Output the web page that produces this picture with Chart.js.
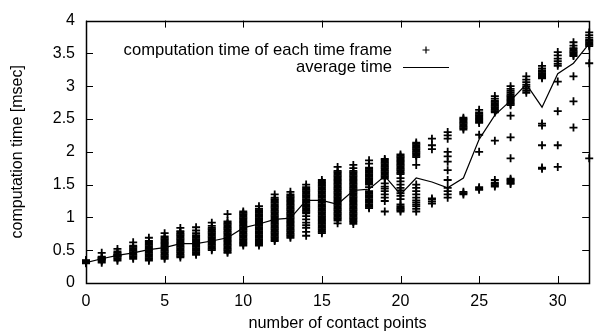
<!DOCTYPE html>
<html>
<head>
<meta charset="utf-8">
<script src="https://cdn.jsdelivr.net/npm/chart.js@4.4.1/dist/chart.umd.min.js"></script>
<style>
  html, body { margin: 0; padding: 0; background: #fff; }
  #wrap { width: 595px; height: 334px; }
</style>
</head>
<body>
<div id="wrap"><canvas id="chart" width="595" height="334"></canvas></div>
<script>
// number of contact points (x categories)
const contactPoints = [0, 1, 2, 3, 4, 5, 6, 7, 8, 9, 10, 11, 12, 13, 14, 15, 16,
  17, 18, 19, 20, 21, 22, 23, 24, 25, 26, 27, 28, 29, 30, 31, 32];

// average computation time [msec] per contact count
const averageTime = [0.31, 0.37, 0.42, 0.46, 0.51, 0.54, 0.60, 0.60, 0.64, 0.69,
  0.84, 0.90, 0.97, 0.99, 1.26, 1.26, 1.20, 1.41, 1.43, 1.63, 1.35, 1.60, 1.54,
  1.45, 1.60, 2.19, 2.56, 2.78, 3.03, 2.68, 3.19, 3.35, 3.65];

// computation time of each time frame, grouped by contact count (index = contacts)
const frameTimes = [
  [0.30, 0.31, 0.32, 0.33, 0.34, 0.35],
  [0.31, 0.33, 0.35, 0.36, 0.37, 0.38, 0.39, 0.40, 0.46],
  [0.34, 0.36, 0.38, 0.40, 0.41, 0.42, 0.43, 0.44, 0.46, 0.48, 0.52],
  [0.37, 0.39, 0.41, 0.43, 0.45, 0.47, 0.49, 0.51, 0.53, 0.55, 0.57, 0.62],
  [0.34, 0.36, 0.38, 0.40, 0.42, 0.44, 0.46, 0.48, 0.50, 0.52, 0.54, 0.56, 0.58, 0.60, 0.62, 0.64, 0.69],
  [0.37, 0.39, 0.41, 0.43, 0.45, 0.47, 0.49, 0.51, 0.53, 0.55, 0.57, 0.59, 0.61, 0.63, 0.65, 0.67, 0.69, 0.71, 0.76],
  [0.39, 0.41, 0.43, 0.45, 0.47, 0.49, 0.51, 0.53, 0.55, 0.57, 0.59, 0.61, 0.63, 0.65, 0.67, 0.69, 0.71, 0.73, 0.75, 0.77, 0.79, 0.84],
  [0.43, 0.45, 0.47, 0.49, 0.51, 0.53, 0.55, 0.57, 0.59, 0.61, 0.63, 0.65, 0.67, 0.69, 0.71, 0.73, 0.76, 0.80, 0.85],
  [0.50, 0.52, 0.54, 0.56, 0.58, 0.60, 0.62, 0.64, 0.66, 0.68, 0.70, 0.72, 0.74, 0.76, 0.78, 0.80, 0.82, 0.84, 0.87, 0.92],
  [0.46, 0.48, 0.50, 0.52, 0.54, 0.56, 0.58, 0.60, 0.62, 0.64, 0.66, 0.68, 0.70, 0.72, 0.74, 0.76, 0.78, 0.80, 0.82, 0.84, 0.86, 0.88, 0.90, 0.92, 0.94, 1.05],
  [0.57, 0.59, 0.61, 0.63, 0.65, 0.67, 0.69, 0.71, 0.73, 0.75, 0.77, 0.79, 0.81, 0.83, 0.85, 0.87, 0.89, 0.91, 0.93, 0.95, 0.97, 0.99, 1.01, 1.03, 1.05, 1.07, 1.09],
  [0.57, 0.59, 0.61, 0.63, 0.65, 0.67, 0.69, 0.71, 0.73, 0.75, 0.77, 0.79, 0.81, 0.83, 0.85, 0.87, 0.89, 0.91, 0.93, 0.95, 0.97, 0.99, 1.01, 1.03, 1.05, 1.07, 1.09, 1.11, 1.13, 1.17],
  [0.64, 0.66, 0.68, 0.70, 0.72, 0.74, 0.76, 0.78, 0.80, 0.82, 0.84, 0.86, 0.88, 0.90, 0.92, 0.94, 0.96, 0.98, 1.00, 1.02, 1.04, 1.06, 1.08, 1.10, 1.12, 1.14, 1.16, 1.18, 1.20, 1.22, 1.24, 1.26, 1.28, 1.30, 1.35],
  [0.69, 0.71, 0.73, 0.75, 0.77, 0.79, 0.81, 0.83, 0.85, 0.87, 0.89, 0.91, 0.93, 0.95, 0.97, 0.99, 1.01, 1.03, 1.05, 1.07, 1.09, 1.11, 1.13, 1.15, 1.17, 1.19, 1.21, 1.23, 1.25, 1.27, 1.29, 1.31, 1.33, 1.35, 1.39],
  [0.72, 0.78, 0.84, 0.88, 0.92, 0.97, 1.02, 1.06, 1.08, 1.10, 1.12, 1.14, 1.16, 1.18, 1.20, 1.22, 1.24, 1.26, 1.28, 1.30, 1.32, 1.34, 1.36, 1.38, 1.40, 1.42, 1.44, 1.46, 1.50],
  [0.76, 0.78, 0.80, 0.82, 0.84, 0.86, 0.88, 0.90, 0.92, 0.94, 0.96, 0.98, 1.00, 1.02, 1.04, 1.06, 1.08, 1.10, 1.12, 1.14, 1.16, 1.18, 1.20, 1.22, 1.24, 1.26, 1.28, 1.30, 1.32, 1.34, 1.36, 1.38, 1.40, 1.42, 1.44, 1.46, 1.48, 1.50, 1.52, 1.54, 1.57],
  [0.91, 0.95, 0.97, 0.99, 1.01, 1.03, 1.05, 1.07, 1.09, 1.11, 1.13, 1.15, 1.17, 1.19, 1.21, 1.23, 1.25, 1.27, 1.29, 1.31, 1.33, 1.35, 1.37, 1.39, 1.41, 1.43, 1.45, 1.47, 1.49, 1.51, 1.53, 1.55, 1.57, 1.59, 1.61, 1.63, 1.65, 1.67, 1.69, 1.71, 1.77],
  [0.90, 0.93, 0.95, 0.97, 0.99, 1.01, 1.03, 1.05, 1.07, 1.09, 1.11, 1.13, 1.15, 1.17, 1.19, 1.21, 1.23, 1.25, 1.27, 1.29, 1.31, 1.33, 1.35, 1.37, 1.39, 1.41, 1.43, 1.45, 1.47, 1.49, 1.51, 1.53, 1.55, 1.57, 1.59, 1.61, 1.63, 1.65, 1.67, 1.69, 1.71, 1.75, 1.80],
  [1.14, 1.16, 1.18, 1.20, 1.22, 1.24, 1.26, 1.28, 1.30, 1.32, 1.34, 1.36, 1.38, 1.40, 1.46, 1.50, 1.52, 1.54, 1.56, 1.58, 1.60, 1.62, 1.64, 1.66, 1.68, 1.70, 1.72, 1.74, 1.76, 1.82, 1.87],
  [1.09, 1.25, 1.30, 1.35, 1.40, 1.44, 1.47, 1.52, 1.59, 1.61, 1.63, 1.65, 1.67, 1.69, 1.71, 1.73, 1.75, 1.77, 1.79, 1.81, 1.83, 1.85, 1.87, 1.89],
  [1.09, 1.11, 1.13, 1.15, 1.17, 1.20, 1.28, 1.33, 1.37, 1.41, 1.45, 1.50, 1.55, 1.60, 1.66, 1.68, 1.70, 1.72, 1.74, 1.76, 1.78, 1.80, 1.82, 1.84, 1.86, 1.88, 1.90, 1.92, 1.94, 1.96],
  [1.09, 1.13, 1.17, 1.20, 1.23, 1.26, 1.30, 1.35, 1.40, 1.45, 1.50, 1.80, 1.92, 1.94, 1.96, 1.98, 2.00, 2.02, 2.04, 2.06, 2.08, 2.10, 2.12, 2.14],
  [1.21, 1.24, 1.27, 1.29, 2.04, 2.10, 2.20],
  [1.30, 1.35, 1.40, 1.45, 1.57, 1.72, 1.85, 1.93, 2.00, 2.20, 2.25, 2.30],
  [1.35, 1.37, 1.39, 2.34, 2.36, 2.38, 2.40, 2.42, 2.44, 2.46, 2.48, 2.50, 2.52],
  [1.42, 1.44, 1.46, 2.00, 2.26, 2.44, 2.46, 2.48, 2.50, 2.52, 2.54, 2.56, 2.58, 2.60, 2.64],
  [1.47, 1.49, 1.51, 1.53, 1.57, 2.17, 2.60, 2.62, 2.64, 2.66, 2.68, 2.70, 2.72, 2.74, 2.76, 2.78, 2.81, 2.85],
  [1.51, 1.53, 1.55, 1.57, 1.59, 1.90, 2.22, 2.55, 2.71, 2.73, 2.75, 2.77, 2.79, 2.81, 2.83, 2.85, 2.87, 2.90, 2.93, 2.96, 3.00],
  [2.90, 2.93, 2.96, 2.99, 3.02, 3.06, 3.10, 3.15],
  [1.74, 1.76, 2.10, 2.40, 2.43, 3.12, 3.14, 3.16, 3.18, 3.20, 3.22, 3.24, 3.27, 3.31],
  [1.77, 2.10, 2.62, 3.07, 3.31, 3.34, 3.38, 3.42, 3.47, 3.52],
  [2.37, 2.77, 3.15, 3.46, 3.48, 3.50, 3.52, 3.54, 3.56, 3.58, 3.62, 3.67],
  [1.90, 3.35, 3.61, 3.63, 3.65, 3.67, 3.69, 3.71, 3.74, 3.78, 3.82]
];

// tick labels
const xTickValues = [0, 5, 10, 15, 20, 25, 30];
const yTickValues = [0, 0.5, 1, 1.5, 2, 2.5, 3, 3.5, 4];

const legendLabels = ['computation time of each time frame', 'average time'];
const xTitle = 'number of contact points';
const yTitle = 'computation time [msec]';

const FONT = '"Liberation Sans", Arial, Helvetica, sans-serif';
const INK = '#000';

const framePoints = [];
frameTimes.forEach((list, i) => {
  list.forEach(v => framePoints.push({ x: contactPoints[i], y: v }));
});
const averagePoints = contactPoints.map((c, i) => ({ x: c, y: averageTime[i] }));

// gnuplot-style frame + inward ticks on all four sides
const frameAndTicks = {
  id: 'frameAndTicks',
  afterDatasetsDraw(chart) {
    const { ctx, chartArea: a, scales } = chart;
    const len = 7;
    ctx.save();
    ctx.strokeStyle = INK;
    ctx.lineWidth = 1;
    ctx.beginPath();
    scales.x.ticks.forEach(t => {
      const px = Math.round(scales.x.getPixelForValue(t.value)) + 0.5;
      ctx.moveTo(px, a.bottom); ctx.lineTo(px, a.bottom - len);
      ctx.moveTo(px, a.top); ctx.lineTo(px, a.top + len);
    });
    scales.y.ticks.forEach(t => {
      const py = Math.round(scales.y.getPixelForValue(t.value)) + 0.5;
      ctx.moveTo(a.left, py); ctx.lineTo(a.left + len, py);
      ctx.moveTo(a.right, py); ctx.lineTo(a.right - len, py);
    });
    ctx.stroke();
    ctx.lineWidth = 1.5;
    ctx.strokeRect(Math.round(a.left) + 0.5, Math.round(a.top) + 0.5,
      Math.round(a.right - a.left), Math.round(a.bottom - a.top));
    ctx.restore();
  }
};

// gnuplot-style key: labels right aligned, sample to the right
const gnuKey = {
  id: 'gnuKey',
  afterDatasetsDraw(chart) {
    const { ctx } = chart;
    const textRight = 392, rowY = [50, 67];
    ctx.save();
    ctx.font = '16.6px ' + FONT;
    ctx.fillStyle = INK;
    ctx.textAlign = 'right';
    ctx.textBaseline = 'middle';
    legendLabels.forEach((s, i) => ctx.fillText(s, textRight, rowY[i]));
    ctx.strokeStyle = INK;
    ctx.lineWidth = 1.2;
    ctx.beginPath();
    ctx.moveTo(422.5, rowY[0]); ctx.lineTo(429.5, rowY[0]);
    ctx.moveTo(426, rowY[0] - 3.5); ctx.lineTo(426, rowY[0] + 3.5);
    ctx.stroke();
    ctx.lineWidth = 1;
    ctx.beginPath();
    ctx.moveTo(403, rowY[1] + 0.5); ctx.lineTo(449, rowY[1] + 0.5);
    ctx.stroke();
    ctx.restore();
  }
};

new Chart(document.getElementById('chart'), {
  type: 'scatter',
  data: {
    datasets: [
      {
        label: legendLabels[0],
        data: framePoints,
        pointStyle: 'cross',
        pointRadius: 4,
        pointBorderWidth: 1.8,
        borderColor: INK,
        backgroundColor: INK,
        showLine: false,
        clip: false
      },
      {
        label: legendLabels[1],
        data: averagePoints,
        showLine: true,
        pointRadius: 0,
        borderColor: INK,
        borderWidth: 1.2,
        tension: 0
      }
    ]
  },
  options: {
    responsive: false,
    animation: false,
    devicePixelRatio: 1,
    layout: { padding: { top: 16, right: 3, left: 0, bottom: 0 } },
    plugins: {
      legend: { display: false },
      tooltip: { enabled: false }
    },
    scales: {
      x: {
        type: 'linear',
        min: 0,
        max: 32,
        afterFit: s => { s.height = 51; },
        afterBuildTicks: s => { s.ticks = xTickValues.map(v => ({ value: v })); },
        grid: { display: false, drawTicks: false },
        border: { display: false },
        ticks: {
          padding: 9,
          color: INK,
          font: { family: FONT, size: 16 },
          maxRotation: 0,
          autoSkip: false,
          callback: v => String(v)
        },
        title: {
          display: true,
          text: xTitle,
          color: INK,
          font: { family: FONT, size: 16.3 },
          padding: { top: 0, bottom: 1 }
        }
      },
      y: {
        min: 0,
        max: 4,
        afterFit: s => { s.width = 86; },
        afterBuildTicks: s => { s.ticks = yTickValues.map(v => ({ value: v })); },
        grid: { display: false, drawTicks: false },
        border: { display: false },
        ticks: {
          padding: 11,
          color: INK,
          font: { family: FONT, size: 16 },
          autoSkip: false,
          callback: v => String(v)
        },
        title: {
          display: true,
          text: yTitle,
          color: INK,
          font: { family: FONT, size: 16 },
          padding: { top: 8, bottom: 0 }
        }
      }
    }
  },
  plugins: [frameAndTicks, gnuKey]
});
</script>
</body>
</html>
